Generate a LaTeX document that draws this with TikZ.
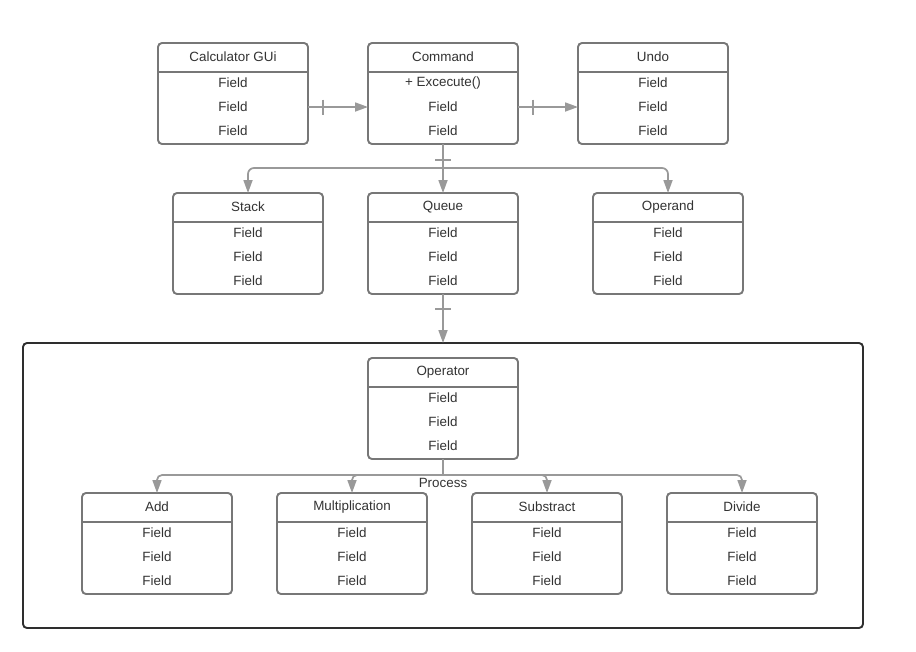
\documentclass[tikz,border=0pt]{standalone}
\usepackage{fontspec}
\setmainfont{Liberation Sans}
\usetikzlibrary{arrows.meta,calc}

\definecolor{boxgray}{HTML}{777777}
\definecolor{linegray}{HTML}{999999}
\definecolor{txt}{HTML}{333333}
\definecolor{framec}{HTML}{2E2E2E}

\tikzset{
  cls/.style={draw=boxgray, line width=1.9pt, rounded corners=4pt, outer sep=0pt,
    minimum width=150pt, minimum height=101pt, inner sep=0pt, anchor=north west},
  hdr/.style={draw=boxgray, line width=1.9pt},
  lbl/.style={text=txt, font=\fontsize{13.4}{15}\selectfont, inner sep=0pt},
  conn/.style={draw=linegray, line width=1.7pt, -{Triangle[length=13pt,width=9pt]}},
  tick/.style={draw=linegray, line width=1.7pt},
  frm/.style={draw=framec, line width=1.9pt, rounded corners=4pt, outer sep=0pt,
    minimum width=840pt, minimum height=285pt, inner sep=0pt, anchor=north west},
}

% class box: name, left x, top y, title, first field
\newcommand\umlclass[5]{%
  \node[cls] (#1) at (#2,#3) {};
  \draw[hdr] ([yshift=-29pt]#1.north west) -- ([yshift=-29pt]#1.north east);
  \node[lbl] (#1-t)  at ([yshift=-14pt]#1.north) {#4};
  \node[lbl] (#1-f1) at ([yshift=-40pt]#1.north) {#5};
  \node[lbl] (#1-f2) at ([yshift=-64pt]#1.north) {Field};
  \node[lbl] (#1-f3) at ([yshift=-88pt]#1.north) {Field};
}

\begin{document}
\begin{tikzpicture}[x=1pt,y=-1pt]
  \fill[white] (0,0) rectangle (916,651);
  \useasboundingbox (0,0) rectangle (916,651);

  % top row
  \umlclass{gui}{158}{43}{Calculator GUi}{Field}
  \umlclass{cmd}{368}{43}{Command}{+ Excecute()}
  \umlclass{undo}{578}{43}{Undo}{Field}

  % middle row
  \umlclass{stack}{173}{193}{Stack}{Field}
  \umlclass{queue}{368}{193}{Queue}{Field}
  \umlclass{operand}{593}{193}{Operand}{Field}

  % process frame
  \node[frm] (frame) at (23,343) {};
  \umlclass{operator}{368}{358}{Operator}{Field}
  \umlclass{add}{82}{493}{Add}{Field}
  \umlclass{mul}{277}{493}{Multiplication}{Field}
  \umlclass{sub}{472}{493}{Substract}{Field}
  \umlclass{div}{667}{493}{Divide}{Field}

  % horizontal links
  \draw[conn] (gui-f2 -| gui.east) -- (gui-f2 -| cmd.west);
  \draw[tick] ($(gui-f2 -| gui.east)+(15,-7.5)$) -- ++(0,15);
  \draw[conn] (cmd-f2 -| cmd.east) -- (cmd-f2 -| undo.west);
  \draw[tick] ($(cmd-f2 -| cmd.east)+(15,-7.5)$) -- ++(0,15);

  % command fan-out
  \coordinate (split1) at ([yshift=-24pt]cmd.south);
  \draw[conn] (cmd.south) -- (queue.north);
  \draw[conn, rounded corners=6pt] (split1) -| (stack.north);
  \draw[conn, rounded corners=6pt] (split1) -| (operand.north);
  \draw[tick] ($(cmd.south)+(-8,16)$) -- ++(16,0);

  % queue into frame
  \draw[conn] (queue.south) -- (queue.south |- frame.north);
  \draw[tick] ($(queue.south)+(-8,15)$) -- ++(16,0);

  % operator fan-out
  \coordinate (split2) at ([yshift=-16pt]operator.south);
  \draw[tick] (operator.south) -- (split2);
  \draw[conn, rounded corners=5pt] (split2) -| (add.north);
  \draw[conn, rounded corners=5pt] (split2) -| (mul.north);
  \draw[conn, rounded corners=5pt] (split2) -| (sub.north);
  \draw[conn, rounded corners=5pt] (split2) -| (div.north);
  \node[lbl] (process) at ([yshift=-8pt]split2) {Process};
\end{tikzpicture}
\end{document}
